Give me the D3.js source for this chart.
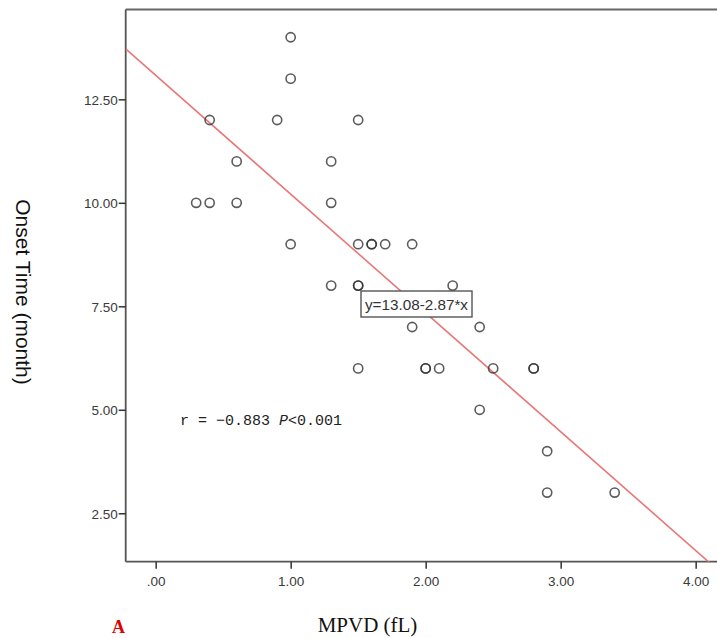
<!DOCTYPE html>
<html><head><meta charset="utf-8">
<script src="https://cdn.jsdelivr.net/npm/d3@7"></script>
<style>body{margin:0;background:#fff;} svg{display:block;}</style>
</head><body>
<svg id="c" width="717" height="638"></svg>
<script>
const mpvd  = [0.3,0.4,0.4,0.6,0.6,0.9,1.0,1.0,1.0,1.3,1.3,1.3,1.5,1.5,1.5,1.5,1.5,1.6,1.6,1.7,1.9,1.9,2.0,2.0,2.1,2.2,2.4,2.4,2.5,2.8,2.8,2.9,2.9,3.4];
const onset = [10,12,10,11,10,12,14,13,9,11,10,8,12,9,8,8,6,9,9,9,9,7,6,6,6,8,7,5,6,6,6,4,3,3];
const xTicks = [0,1,2,3,4];
const xTickLabels = [".00","1.00","2.00","3.00","4.00"];
const yTicks = [2.5,5,7.5,10,12.5];
const yTickLabels = ["2.50","5.00","7.50","10.00","12.50"];
const intercept = 13.08, slope = -2.87;
const eqText = "y=13.08-2.87*x";

const svg = d3.select("#c");
const L = 125.7, T = 9.5, B = 561.7;
const x = d3.scaleLinear().domain([-0.222, 4.3]).range([L, L + 4.522*135]);
const y = d3.scaleLinear().domain([1.33, 14.67]).range([B, T]);

svg.append("defs").append("clipPath").attr("id","clip")
  .append("rect").attr("x",L).attr("y",T).attr("width",720-L).attr("height",B-T);

// frame: top line
svg.append("line").attr("x1",L).attr("x2",717).attr("y1",T).attr("y2",T)
  .attr("stroke","#666").attr("stroke-width",1.8);

// axes
const xAxis = svg.append("g").attr("transform",`translate(0,${B})`)
  .call(d3.axisBottom(x).tickValues(xTicks).tickSize(7).tickSizeOuter(0)
    .tickFormat((d,i)=>xTickLabels[i]));
const yAxis = svg.append("g").attr("transform",`translate(${L},0)`)
  .call(d3.axisLeft(y).tickValues(yTicks).tickSize(7).tickSizeOuter(0)
    .tickFormat((d,i)=>yTickLabels[i]));
[xAxis,yAxis].forEach(g=>{
  g.select(".domain").attr("stroke","#555").attr("stroke-width",1.8);
  g.selectAll(".tick line").attr("stroke","#333").attr("stroke-width",1.5);
  g.selectAll(".tick text").attr("fill","#3a3a3a").attr("font-family","Arial, 'Liberation Sans', sans-serif").attr("font-size",13.5);
});
xAxis.select(".domain").attr("d",`M${L},0H717`);
yAxis.select(".domain").attr("d",`M0,${T}V${B}`);
xAxis.selectAll(".tick text").attr("dy","1.05em");
yAxis.selectAll(".tick text").attr("x",-8).attr("dy","0.35em");

// regression line
svg.append("line").attr("clip-path","url(#clip)")
  .attr("x1",x(-0.222)).attr("y1",y(intercept+slope*(-0.222)))
  .attr("x2",x(4.3)).attr("y2",y(intercept+slope*4.3))
  .attr("stroke","#e87878").attr("stroke-width",1.6);

// points
svg.append("g").selectAll("circle").data(mpvd.map((d,i)=>[d,onset[i]])).join("circle")
  .attr("cx",d=>x(d[0])).attr("cy",d=>y(d[1])).attr("r",4.6)
  .attr("fill","none").attr("stroke","#333").attr("stroke-width",1.6).attr("stroke-opacity",0.8);

// equation box
const eq = svg.append("g");
eq.append("rect").attr("x",361).attr("y",291).attr("width",111).attr("height",26)
  .attr("fill","#fff").attr("stroke","#555").attr("stroke-width",1.4);
eq.append("text").attr("x",416.5).attr("y",309.5).attr("text-anchor","middle")
  .attr("font-family","Arial, 'Liberation Sans', sans-serif").attr("font-size",14.5).attr("fill","#333")
  .attr("textLength",103).attr("lengthAdjust","spacingAndGlyphs").text(eqText);

// r text
const rt = svg.append("text").attr("x",180).attr("y",425)
  .attr("font-family","'Liberation Mono', 'DejaVu Sans Mono', monospace").attr("font-size",15).attr("fill","#222");
rt.append("tspan").text("r = \u22120.883 ");
rt.append("tspan").attr("font-style","italic").text("P");
rt.append("tspan").text("<0.001");

// axis titles
svg.append("text").attr("transform","translate(16,292) rotate(90)").attr("text-anchor","middle")
  .attr("font-family","Arial, 'Liberation Sans', sans-serif").attr("font-size",21).attr("fill","#111")
  .text("Onset Time (month)");
svg.append("text").attr("x",367.5).attr("y",632).attr("text-anchor","middle")
  .attr("font-family","'Liberation Serif','Times New Roman',serif").attr("font-size",21).attr("fill","#111")
  .text("MPVD (fL)");
svg.append("text").attr("x",112).attr("y",633)
  .attr("font-family","'Liberation Serif','Times New Roman',serif").attr("font-size",18).attr("font-weight","bold").attr("fill","#e00000")
  .text("A");
</script>
</body></html>
